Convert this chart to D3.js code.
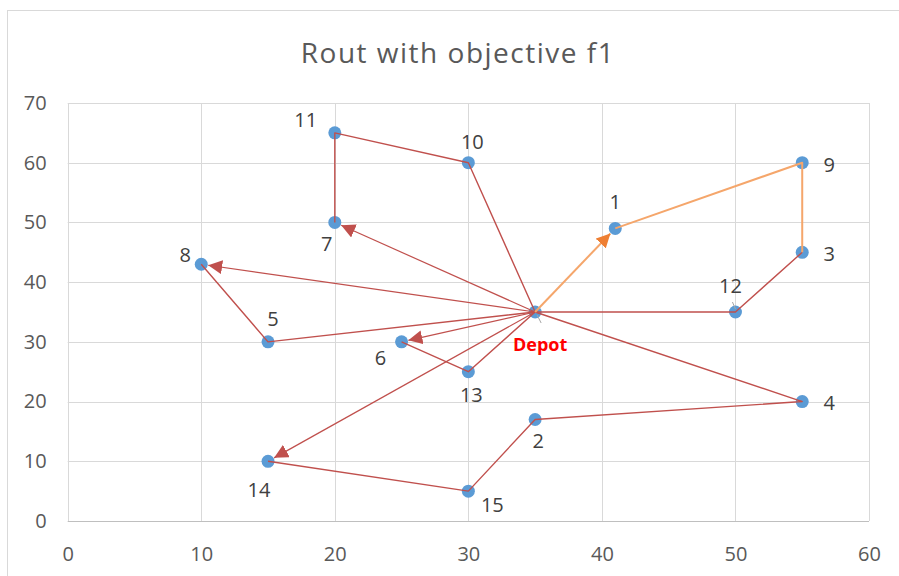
<!DOCTYPE html>
<html><head><meta charset="utf-8">
<script src="https://cdn.jsdelivr.net/npm/d3@7"></script>
<style>body{margin:0;background:#fff}svg{display:block}text{font-family:"Open Sans",sans-serif}</style>
</head><body>
<svg id="c" width="899" height="576"></svg>
<script>
const title = "Rout with objective f1";
const xTicks = [0,10,20,30,40,50,60];
const yTicks = [0,10,20,30,40,50,60,70];
const nodeNames = ["Depot","1","2","3","4","5","6","7","8","9","10","11","12","13","14","15"];
const nodeX = [35,41,35,55,55,15,25,20,10,55,30,20,50,30,15,30];
const nodeY = [35,49,17,45,20,30,30,50,43,60,60,65,35,25,10,5];
// route paths (node indices)
const orangePaths = [[1,9,3]];
const orangeArrows = [[0,1]];
const redPaths = [[3,12,0],[0,4,2,15,14],[0,13,6],[0,5,8],[0,10,11,7]];
const redArrows = [[0,14],[0,6],[0,8],[0,7]];

// label offsets in px (style)
const labelOff = {"Depot":[5,32],"1":[0,-27],"2":[3,21],"3":[27,1],"4":[27,1],"5":[5,-23],"6":[-21,16],"7":[-8,21],"8":[-16,-10],"9":[27,2],"10":[4,-21],"11":[-29,-13],"12":[-5,-27],"13":[3,23],"14":[-9,28],"15":[24,13]};

const svg = d3.select("#c");
const x = d3.scaleLinear().domain([0,60]).range([67.7,869]);
const y = d3.scaleLinear().domain([0,70]).range([521,103]);

svg.append("rect").attr("x",7.5).attr("y",10.5).attr("width",1000).attr("height",1000)
  .attr("fill","#fff").attr("stroke","#D9D9D9");

svg.append("text").attr("x",458).attr("y",63).attr("text-anchor","middle")
  .attr("font-size",28).attr("letter-spacing",1.5).attr("fill","#595959").text(title);

const defs = svg.append("defs");
function mk(id,color){
  defs.append("marker").attr("id",id).attr("markerUnits","userSpaceOnUse")
    .attr("viewBox","0 0 14 14").attr("refX",14).attr("refY",7)
    .attr("markerWidth",14).attr("markerHeight",14).attr("orient","auto")
    .append("path").attr("d","M0,0L14,7L0,14Z").attr("fill",color);
}
mk("ar","#C0504D"); mk("ao","#EE7F33");

// grid
svg.append("g").selectAll("line").data(yTicks.filter(d=>d>0)).join("line")
  .attr("x1",x(0)).attr("x2",x(60)).attr("y1",d=>Math.round(y(d))+0.5).attr("y2",d=>Math.round(y(d))+0.5)
  .attr("stroke","#D9D9D9").attr("stroke-width",1);
svg.append("g").selectAll("line").data(xTicks).join("line")
  .attr("y1",y(0)).attr("y2",y(70)).attr("x1",d=>Math.round(x(d))+0.5).attr("x2",d=>Math.round(x(d))+0.5)
  .attr("stroke","#D9D9D9").attr("stroke-width",1);
svg.append("line").attr("x1",x(0)).attr("x2",x(60)).attr("y1",Math.round(y(0))+0.5).attr("y2",Math.round(y(0))+0.5)
  .attr("stroke","#BFBFBF").attr("stroke-width",1.2);

// axes labels via d3 axes
const xa = svg.append("g").attr("transform",`translate(0,${y(0)+23})`)
  .call(d3.axisBottom(x).tickValues(xTicks).tickSize(0).tickFormat(d3.format("d")));
const ya = svg.append("g").attr("transform",`translate(${x(0)-18},0)`)
  .call(d3.axisLeft(y).tickValues(yTicks).tickSize(0).tickFormat(d3.format("d")));
[xa,ya].forEach(g=>{g.select(".domain").remove();
  g.selectAll("text").attr("font-family","Open Sans, sans-serif").attr("font-size",20).attr("fill","#595959");});
xa.selectAll("text").attr("dy","0.71em");

// markers
svg.append("g").selectAll("circle").data(d3.range(nodeNames.length)).join("circle")
  .attr("cx",i=>x(nodeX[i])).attr("cy",i=>y(nodeY[i])).attr("r",6.5).attr("fill","#5B9BD5");

const line = d3.line().x(i=>x(nodeX[i])).y(i=>y(nodeY[i]));
function drawPaths(paths,color,w){
  svg.append("g").selectAll("path").data(paths).join("path")
    .attr("d",line).attr("fill","none").attr("stroke",color).attr("stroke-width",w).attr("stroke-linejoin","round");
}
function drawArrows(arr,color,w,marker){
  svg.append("g").selectAll("line").data(arr).join("line")
    .each(function(p){
      const x1=x(nodeX[p[0]]), y1=y(nodeY[p[0]]), x2=x(nodeX[p[1]]), y2=y(nodeY[p[1]]);
      const L=Math.hypot(x2-x1,y2-y1), k=(L-7)/L;
      d3.select(this).attr("x1",x1).attr("y1",y1).attr("x2",x1+(x2-x1)*k).attr("y2",y1+(y2-y1)*k);
    })
    .attr("stroke",color).attr("stroke-width",w).attr("marker-end",`url(#${marker})`);
}
drawPaths(redPaths,"#C0504D",1.4);
drawArrows(redArrows,"#C0504D",1.2,"ar");
drawPaths(orangePaths,"#F5A66B",2);
drawArrows(orangeArrows,"#F5A66B",2,"ao");

// leader lines
svg.append("line").attr("x1",x(35)+2).attr("y1",y(35)+3).attr("x2",x(35)+6).attr("y2",y(35)+11).attr("stroke","#A6A6A6").attr("stroke-width",1);
svg.append("line").attr("x1",x(50)-3).attr("y1",y(35)-10).attr("x2",x(50)).attr("y2",y(35)-3).attr("stroke","#A6A6A6").attr("stroke-width",1);

// labels
svg.append("g").selectAll("text").data(d3.range(nodeNames.length)).join("text")
  .attr("x",i=>x(nodeX[i])+labelOff[nodeNames[i]][0])
  .attr("y",i=>y(nodeY[i])+labelOff[nodeNames[i]][1])
  .attr("text-anchor","middle").attr("dominant-baseline","central")
  .attr("font-size",i=>i===0?18:20)
  .attr("font-weight",i=>i===0?"bold":"normal")
  .attr("fill",i=>i===0?"#FF0000":"#404040")
  .text(i=>nodeNames[i]);
</script>
</body></html>
